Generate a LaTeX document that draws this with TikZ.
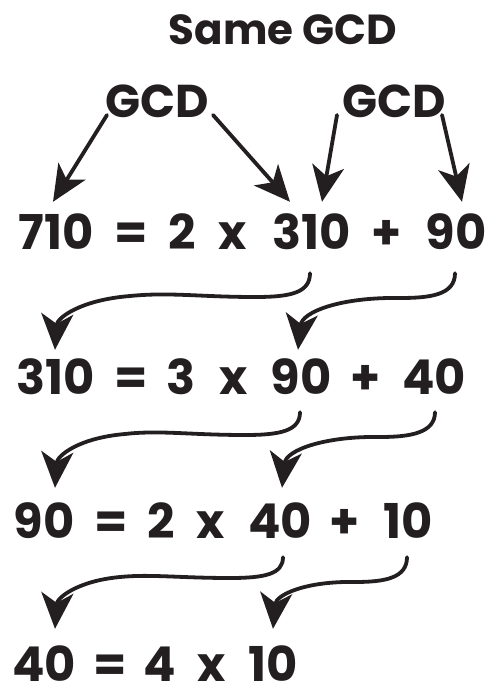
\documentclass[tikz,border=0pt]{standalone}
\usepackage{fontspec}
\setmainfont{Poppins}
\usetikzlibrary{arrows.meta}
\definecolor{ink}{HTML}{231F20}
\begin{document}
\begin{tikzpicture}[x=1pt,y=-1pt,
  num/.style={font=\fontsize{48}{48}\selectfont\bfseries, text=ink, inner sep=0pt, text height=36pt, text depth=0pt, anchor=center},
  gcdlab/.style={font=\fontsize{46}{46}\selectfont\bfseries, text=ink, inner sep=0pt, text height=34pt, text depth=0pt},
  titlelab/.style={font=\fontsize{42}{42}\selectfont\bfseries, text=ink, inner sep=0pt, text height=30pt, text depth=0pt},
  arr/.style={draw=ink, line width=3.8pt, line cap=round, -{Stealth[length=36pt,width=32pt,inset=10pt]}}]
\useasboundingbox (0,0) rectangle (488,685);
% title and GCD labels
\node[titlelab] (title) at (283,30) {Same GCD};
\node[gcdlab] (gcdL) at (157,100) {GCD};
\node[gcdlab] (gcdR) at (394,100) {GCD};
% row 1
\node[num] (r1a) at (56,231) {710};
\node[num] (r1b) at (131,231) {=};
\node[num] (r1c) at (182,231) {2};
\node[num] (r1d) at (233,231) {x};
\node[num] (r1e) at (312,231) {310};
\node[num] (r1f) at (387,231) {+};
\node[num] (r1g) at (456,231) {90};
% row 2
\node[num] (r2a) at (56,376) {310};
\node[num] (r2b) at (131,376) {=};
\node[num] (r2c) at (181,376) {3};
\node[num] (r2d) at (234,376) {x};
\node[num] (r2e) at (301,376) {90};
\node[num] (r2f) at (366,376) {+};
\node[num] (r2g) at (434,376) {40};
% row 3
\node[num] (r3a) at (44,520) {90};
\node[num] (r3b) at (111,520) {=};
\node[num] (r3c) at (161,520) {2};
\node[num] (r3d) at (211,520) {x};
\node[num] (r3e) at (280,520) {40};
\node[num] (r3f) at (345,520) {+};
\node[num] (r3g) at (408,520) {10};
% row 4
\node[num] (r4a) at (44,663) {40};
\node[num] (r4b) at (110,663) {=};
\node[num] (r4c) at (160,663) {4};
\node[num] (r4d) at (212,663) {x};
\node[num] (r4e) at (273,663) {10};
% straight arrows from GCD labels
\draw[arr] ([shift={(-50pt,-15pt)}]gcdL.center) -- ([shift={(-3pt,11pt)}]r1a.north);
\draw[arr] ([shift={(56pt,-15pt)}]gcdL.center) -- ([shift={(-22pt,11pt)}]r1e.north);
\draw[arr] ([shift={(-57pt,-15pt)}]gcdR.center) -- ([shift={(10pt,11pt)}]r1e.north);
\draw[arr] ([shift={(48pt,-15pt)}]gcdR.center) -- ([shift={(6pt,11pt)}]r1g.north);
% row 1 -> row 2
\draw[arr] ([shift={(-2pt,-24pt)}]r1e.south) .. controls (310,293) and (290,297) .. (255,297)
  .. controls (200,297) and (170,292) .. (130,296) .. controls (80,300) and (57,318) .. ([shift={(-1pt,8pt)}]r2a.north);
\draw[arr] ([shift={(-1pt,-24pt)}]r1g.south) .. controls (455,295) and (430,298) .. (400,298)
  .. controls (340,297) and (302,312) .. ([shift={(-3pt,8pt)}]r2e.north);
% row 2 -> row 3
\draw[arr] ([shift={(-1pt,-18pt)}]r2e.south) .. controls (300,431) and (280,435) .. (245,435)
  .. controls (190,435) and (160,430) .. (125,434) .. controls (78,438) and (57,456) .. ([shift={(11pt,14pt)}]r3a.north);
\draw[arr] ([shift={(1pt,-18pt)}]r2g.south) .. controls (435,433) and (410,437) .. (380,437)
  .. controls (325,436) and (286,450) .. ([shift={(2pt,14pt)}]r3e.north);
% row 3 -> row 4
\draw[arr] ([shift={(3pt,-19pt)}]r3e.south) .. controls (283,574) and (265,578) .. (230,578)
  .. controls (180,578) and (150,574) .. (120,577) .. controls (77,581) and (57,598) .. ([shift={(11pt,16pt)}]r4a.north);
\draw[arr] ([shift={(-1pt,-19pt)}]r3g.south) .. controls (407,578) and (385,582) .. (355,582)
  .. controls (305,581) and (276,595) .. ([shift={(0pt,16pt)}]r4e.north);
\end{tikzpicture}
\end{document}
